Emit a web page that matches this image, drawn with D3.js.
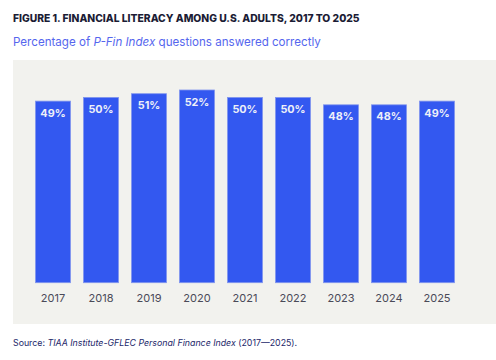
<!DOCTYPE html>
<html>
<head>
<meta charset="utf-8">
<script src="https://cdn.jsdelivr.net/npm/d3@7"></script>
<style>
  body { margin: 0; background: #fff; }
  svg { display: block; font-family: Inter, "DejaVu Sans", sans-serif; }
</style>
</head>
<body>
<script>
// chart values
var years = ["2017", "2018", "2019", "2020", "2021", "2022", "2023", "2024", "2025"];
var scores = [49, 50, 51, 52, 50, 50, 48, 48, 49];

var width = 496, height = 360;

var svg = d3.select("body").append("svg")
    .attr("width", width)
    .attr("height", height);

// grey panel behind the bars
svg.append("rect")
    .attr("x", 13)
    .attr("y", 60)
    .attr("width", width - 13)
    .attr("height", 264)
    .attr("fill", "#f2f2ee");

// title
svg.append("text")
    .attr("x", 13)
    .attr("y", 22)
    .attr("font-size", 10.3)
    .attr("font-weight", 800)
    .attr("fill", "#1b1c35")
    .text("FIGURE 1. FINANCIAL LITERACY AMONG U.S. ADULTS, 2017 TO 2025");

// subtitle with italic index name
var sub = svg.append("text")
    .attr("x", 13)
    .attr("y", 46)
    .attr("font-size", 11.6)
    .attr("fill", "#5566ee");
sub.append("tspan").text("Percentage of ");
sub.append("tspan").attr("font-style", "italic").text("P-Fin Index");
sub.append("tspan").text(" questions answered correctly");

var x = d3.scaleBand()
    .domain(years)
    .range([29, 461])
    .paddingInner(0.27)
    .paddingOuter(0.135);

var y = d3.scaleLinear()
    .domain([0, 52])
    .range([282.7, 90]);

var data = years.map(function(yr, i) { return {year: yr, value: scores[i]}; });

svg.selectAll(".bar").data(data)
    .enter().append("rect")
    .attr("class", "bar")
    .attr("x", function(d) { return x(d.year); })
    .attr("y", function(d) { return y(d.value); })
    .attr("width", x.bandwidth())
    .attr("height", function(d) { return y(0) - y(d.value); })
    .attr("fill", "#3358f0")
    .attr("stroke", "#8296ee")
    .attr("stroke-width", 0.8);

svg.selectAll(".val").data(data)
    .enter().append("text")
    .attr("class", "val")
    .attr("x", function(d) { return x(d.year) + x.bandwidth() / 2; })
    .attr("y", function(d) { return y(d.value) + 15.5; })
    .attr("text-anchor", "middle")
    .attr("font-size", 10.8)
    .attr("font-weight", 700)
    .attr("fill", "#eef0f8")
    .text(function(d) { return d.value + "%"; });

// year axis, no line or ticks
var xAxis = svg.append("g")
    .attr("transform", "translate(0," + 282.7 + ")")
    .call(d3.axisBottom(x).tickSize(0).tickPadding(12));
xAxis.select(".domain").remove();
xAxis.selectAll("text")
    .attr("font-family", "Inter, sans-serif")
    .attr("font-size", 11)
    .attr("fill", "#4a4a58");

// source note
var src = svg.append("text")
    .attr("x", 13)
    .attr("y", 346)
    .attr("font-size", 8.8)
    .attr("fill", "#23286a");
src.append("tspan").text("Source: ");
src.append("tspan").attr("font-style", "italic").text("TIAA Institute-GFLEC Personal Finance Index");
src.append("tspan").text(" (2017\u20142025).");
</script>
</body>
</html>
